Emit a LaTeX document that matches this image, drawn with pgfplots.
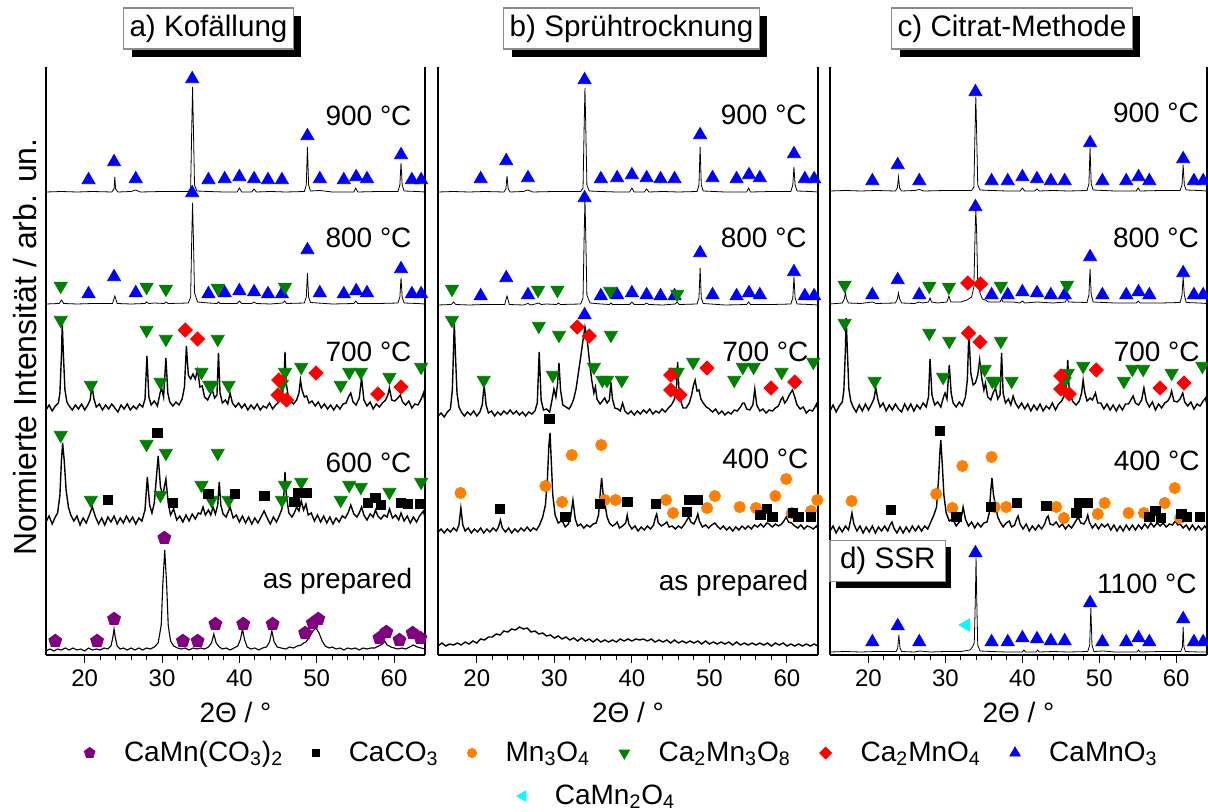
\documentclass[border=0pt]{standalone}
\usepackage{fontspec}
\setmainfont{Liberation Sans}
\usepackage{pgfplots}
\pgfplotsset{compat=1.18}
\usetikzlibrary{shadows}
\definecolor{cpur}{RGB}{128,0,128}
\definecolor{corg}{RGB}{255,128,0}
\definecolor{cgrn}{RGB}{0,128,0}
\definecolor{cred}{RGB}{255,0,0}
\definecolor{cblu}{RGB}{0,0,255}
\definecolor{ccyn}{RGB}{0,255,255}
\pgfplotsset{
 xrd/.style={scale only axis, height=294pt, xmin=15, xmax=64, ymin=0, ymax=588,
   axis x line*=bottom, axis y line*=box, xtick={20,30,40,50,60}, minor x tick num=4,
   ytick=\empty, tick align=outside, major tick length=4pt, minor tick length=2.5pt,
   tick style={black, line width=0.5pt}, axis line style={black, line width=0.6pt},
   anchor=south west, clip=false,
   /pgf/number format/assume math mode=true,
   xticklabel style={font=\fontsize{12}{12}\selectfont},
 },
 pat/.style={black, line width=0.4pt, mark=none},
 npat/.style={black, line width=0.7pt, mark=none},
 mpent/.style={only marks, mark=pentagon*, mark size=3.4pt, color=cpur},
 msq/.style={only marks, mark=square*, mark size=2.4pt, color=black},
 mcir/.style={only marks, mark=*, mark size=2.8pt, color=corg},
 mdtri/.style={only marks, mark=triangle*, mark size=3.75pt, color=cgrn, mark options={rotate=180}},
 mdia/.style={only marks, mark=square*, mark size=2.5pt, color=cred, mark options={rotate=45}},
 mutri/.style={only marks, mark=triangle*, mark size=3.75pt, color=cblu},
 mltri/.style={only marks, mark=triangle*, mark size=3.6pt, color=ccyn, mark options={rotate=90}},
 legax/.style={hide axis, scale only axis, width=10pt, height=10pt, xmin=0, xmax=1, ymin=0, ymax=1, anchor=center,
   legend image code/.code={\draw[##1] plot coordinates {(0pt,0pt)};},
   legend cell align=left},
}
\tikzset{
 tlab/.style={anchor=base east, inner sep=0pt, font=\fontsize{14}{14}\selectfont},
 xl/.style={font=\fontsize{14}{14}\selectfont, yshift=-28.75pt},
 tbox/.style={draw=black!45, fill=white, line width=0.6pt, inner xsep=3pt, inner ysep=0pt, minimum height=20.5pt, font=\fontsize{14.8}{14.8}\selectfont},
}
\begin{document}
\begin{tikzpicture}
\useasboundingbox (0,0) rectangle (604pt,-406pt);
% ---------------- panel a ----------------
\begin{axis}[xrd, width=189.5pt, at={(23pt,-327.5pt)}]
\addplot[pat] coordinates {(15,463)(17,463.5)(19,463)(21,463.5)(23.5,463)(23.8,466)(23.9,478)(24.0,466)(24.3,463)(26,463.5)(26.6,465)(27.2,463)(30,463.5)(33.4,463.5)(33.7,467)(33.85,530)(33.95,568)(34.05,530)(34.2,470)(34.5,464)(36,463.5)(38,463)(39.7,463)(40.0,467)(40.3,463)(41.6,463)(41.9,466)(42.2,463)(44,463.5)(46,463)(48.4,463.5)(48.65,470)(48.8,508)(48.95,470)(49.2,464)(50.4,464.5)(52,463)(54.8,463)(55.05,467)(55.3,463)(58,463.5)(60.5,463.5)(60.75,470)(60.9,492)(61.05,470)(61.3,464)(63,463.5)(64,463)};
\addplot[pat] coordinates {(15,351)(16.7,351.5)(17.0,355)(17.3,351.5)(19,351)(21,351.5)(23.6,351.5)(23.9,359)(24.2,351.5)(26,351)(27.8,351.5)(28.0,353)(28.3,351.5)(29,352)(30.3,351.5)(30.5,353)(30.8,351.5)(33.4,352)(33.7,358)(33.85,420)(33.95,452)(34.05,420)(34.2,362)(34.6,353)(36,352)(37.1,351.5)(37.3,353)(37.5,351.5)(39.7,351.5)(40.0,354)(40.3,351.5)(41.6,351.5)(41.9,353)(42.2,351.5)(44,351)(45.6,352)(45.85,354)(46.1,351.5)(48.4,352)(48.65,358)(48.8,382)(48.95,358)(49.2,352.5)(52,351)(54.8,351.5)(55.05,354)(55.3,351.5)(58,351.5)(60.5,352)(60.75,358)(60.9,377)(61.05,358)(61.3,352)(63,351.5)(64,351)};
\addplot[npat] coordinates {(15.0,245)(15.4,250)(15.8,244)(16.2,249)(16.6,252)(16.8,262)(17.0,300)(17.1,332)(17.25,300)(17.45,265)(17.7,253)(18.0,249)(18.4,245)(18.8,250)(19.2,246)(19.6,251)(20.0,245)(20.4,250)(20.7,255)(20.95,269)(21.2,256)(21.5,248)(21.9,251)(22.3,245)(22.7,250)(23.1,246)(23.5,251)(23.9,247)(24.3,243)(24.7,250)(25.1,246)(25.5,251)(25.9,245)(26.3,249)(26.7,246)(27.1,251)(27.5,248)(27.8,256)(28.05,299)(28.3,258)(28.6,250)(29.0,254)(29.4,249)(29.75,262)(29.95,267)(30.2,258)(30.5,297)(30.75,262)(31.0,253)(31.4,249)(31.8,253)(32.2,250)(32.6,256)(32.9,268)(33.15,309)(33.4,280)(33.7,276)(34.0,281)(34.3,276)(34.6,285)(34.9,268)(35.2,269)(35.5,258)(35.9,255)(36.2,260)(36.5,265)(36.8,257)(37.1,260)(37.3,302)(37.5,262)(37.8,252)(38.2,255)(38.5,251)(38.8,262)(39.1,252)(39.5,248)(39.9,252)(40.3,247)(40.7,251)(41.1,245)(41.5,250)(41.9,246)(42.3,251)(42.7,245)(43.1,249)(43.5,247)(43.9,252)(44.3,246)(44.7,250)(45.1,253)(45.5,258)(45.75,270)(45.9,303)(46.05,272)(46.3,260)(46.6,254)(47.0,251)(47.4,255)(47.7,262)(47.9,275)(48.1,265)(48.4,258)(48.7,259)(49.0,252)(49.4,254)(49.8,249)(50.2,253)(50.6,247)(51.0,251)(51.4,246)(51.8,250)(52.2,245)(52.6,250)(53.0,246)(53.4,251)(53.8,252)(54.1,258)(54.4,262)(54.7,253)(55.1,250)(55.5,257)(55.8,277)(56.1,255)(56.5,249)(56.9,253)(57.3,246)(57.7,251)(58.1,248)(58.5,252)(58.9,255)(59.2,260)(59.4,267)(59.7,255)(60.1,254)(60.5,257)(60.8,260)(61.1,253)(61.5,250)(61.9,254)(62.3,247)(62.7,251)(63.1,250)(63.5,256)(63.8,262)(64.0,252)};
\addplot[npat] coordinates {(15.0,133)(15.4,139)(15.8,131)(16.2,138)(16.5,142)(16.8,160)(17.0,195)(17.15,212)(17.35,195)(17.6,165)(17.9,148)(18.2,140)(18.6,134)(19.0,139)(19.4,130)(19.8,137)(20.2,132)(20.6,140)(21.0,148)(21.4,138)(21.8,131)(22.2,137)(22.6,130)(23.0,138)(23.4,133)(23.8,139)(24.2,131)(24.6,137)(25.0,132)(25.4,139)(25.8,133)(26.2,138)(26.6,131)(27.0,137)(27.4,134)(27.8,145)(28.1,178)(28.4,150)(28.7,142)(29.0,152)(29.3,180)(29.5,199)(29.8,168)(30.1,160)(30.5,176)(30.8,152)(31.1,140)(31.5,146)(31.9,135)(32.3,139)(32.7,133)(33.1,140)(33.5,134)(33.9,141)(34.3,136)(34.7,142)(35.0,141)(35.3,148)(35.6,140)(36.0,145)(36.3,140)(36.6,148)(36.9,141)(37.2,150)(37.4,173)(37.6,150)(37.9,141)(38.3,138)(38.8,148)(39.2,137)(39.6,140)(40.0,133)(40.4,139)(40.8,132)(41.2,138)(41.6,131)(42.0,137)(42.4,132)(42.8,138)(43.2,144)(43.6,137)(44.0,131)(44.4,138)(44.8,133)(45.2,140)(45.5,146)(45.75,160)(45.9,183)(46.1,158)(46.4,142)(46.8,138)(47.1,142)(47.4,148)(47.7,144)(48.0,154)(48.3,145)(48.6,151)(48.9,140)(49.3,142)(49.7,134)(50.1,140)(50.5,133)(50.9,139)(51.3,132)(51.7,138)(52.1,131)(52.5,137)(52.9,133)(53.3,139)(53.7,137)(54.1,143)(54.4,150)(54.8,141)(55.2,138)(55.5,142)(55.8,148)(56.1,140)(56.5,135)(56.9,141)(57.3,138)(57.6,145)(57.9,139)(58.3,136)(58.7,140)(59.1,138)(59.4,146)(59.8,137)(60.2,140)(60.6,135)(60.9,142)(61.3,134)(61.7,139)(62.1,132)(62.5,138)(62.9,133)(63.3,139)(63.8,144)(64.0,137)};
\addplot[pat, line width=0.55pt] coordinates {(15.0,4)(15.5,6)(16,4)(16.5,6)(17,5)(17.5,7)(18,5)(18.5,7)(19,5)(19.5,6)(20,4)(20.5,7)(21,5)(21.5,6)(22,5)(22.5,7)(23.0,6)(23.4,9)(23.65,18)(23.8,26)(23.95,18)(24.2,9)(24.6,6)(25.0,7)(25.5,5)(26,7)(26.5,5)(27,7)(27.5,5)(28,7)(28.5,6)(29.0,8)(29.5,12)(29.9,30)(30.1,70)(30.35,105)(30.6,70)(30.8,30)(31.1,14)(31.5,9)(32,7)(32.5,6)(33,7)(33.5,5)(34,7)(34.5,6)(35,7)(35.5,6)(36.0,8)(36.4,12)(36.7,21)(37.0,12)(37.4,8)(37.8,6)(38.3,7)(38.8,5)(39.3,7)(39.8,9)(40.15,16)(40.4,26)(40.65,16)(41.0,8)(41.5,6)(42,7)(42.5,5)(43,7)(43.5,8)(43.9,13)(44.2,24)(44.5,13)(44.9,8)(45.4,7)(46,6)(46.5,8)(47,7)(47.5,9)(48.0,10)(48.3,12)(48.6,13)(49.0,17)(49.5,24)(49.9,27)(50.3,22)(50.7,14)(51.1,9)(51.6,7)(52,8)(52.5,6)(53,7)(53.5,5)(54,7)(54.5,6)(55,7)(55.5,5)(56,7)(56.5,6)(57,7)(57.5,7)(58.0,9)(58.5,11)(58.8,14)(59.1,10)(59.6,8)(60,7)(60.5,6)(61,7)(61.5,6)(62.0,8)(62.5,10)(63.0,8)(63.5,7)(64,6)};
% markers a
\addplot[mutri] coordinates {(20.5,475)(23.8,493)(26.6,476)(33.9,576)(36.0,475)(38.1,476)(40.0,478)(41.9,476)(43.7,475)(45.5,475)(48.8,519)(50.4,476)(53.5,475)(55.1,478)(56.5,476)(60.9,500)(62.3,475)(63.5,475)};
\addplot[mutri] coordinates {(20.5,361)(23.8,378)(26.6,362)(33.9,462)(36.0,361)(38.1,362)(40.0,364)(41.9,363)(43.7,361)(45.5,361)(48.8,405)(50.4,362)(53.5,361)(55.1,364)(56.5,362)(60.9,386)(62.3,361)(63.5,361)};
\addplot[mdtri] coordinates {(16.9,369)(28.0,368)(30.5,366)(37.2,367)(45.9,368)};
\addplot[mdtri] coordinates {(16.9,335)(20.8,270)(28.0,325)(29.8,273)(30.5,316)(35.1,283)(36.1,270)(36.4,270)(37.2,316)(38.6,270)(45.5,271)(45.9,283)(48.0,288)(53.1,270)(54.2,283)(55.7,283)(59.4,278)(63.5,288)};
\addplot[mdia] coordinates {(33.0,325)(34.6,316)(45.1,275)(45.0,260)(46.1,255)(49.9,282)(57.9,261)(60.9,268)};
\addplot[mdtri] coordinates {(16.9,220)(20.8,155)(28.0,211)(29.8,160)(30.5,202)(35.1,170)(36.4,155)(37.2,202)(38.6,155)(45.5,155)(45.9,170)(48.0,173)(53.1,155)(54.2,170)(55.7,168)(59.4,163)(63.5,173)};
\addplot[msq] coordinates {(23.0,155)(29.4,222)(31.4,152)(36.0,161)(39.4,161)(43.2,159)(47.1,153)(47.6,162)(48.7,162)(56.6,152)(57.6,157)(58.3,150)(60.9,152)(61.8,151)(63.4,151)};
\addplot[mpent] coordinates {(16.2,14)(21.6,14)(23.8,36)(30.3,117)(32.7,14)(34.6,14)(36.9,31)(40.5,31)(44.3,31)(48.5,22)(49.5,32)(50.2,36)(58.1,17)(59.0,23)(60.7,15)(62.4,22)(63.4,17)};
\node[tlab] at (axis cs:62.3,529) {900 °C};
\node[tlab] at (axis cs:62.3,407) {800 °C};
\node[tlab] at (axis cs:62.3,294) {700 °C};
\node[tlab] at (axis cs:62.3,183) {600 °C};
\node[tlab] at (axis cs:62.4,67) {as prepared};
\node[xl] at (rel axis cs:0.5,0) {2Θ / °};
\end{axis}
% ---------------- panel b ----------------
\begin{axis}[xrd, width=190pt, at={(219pt,-327.5pt)}]
\addplot[pat] coordinates {(15,463)(17,463.5)(19,463)(21,463.5)(23.5,463)(23.75,466)(23.9,479)(24.05,466)(24.3,463)(26,463.5)(26.6,465)(27.2,463)(30,463.5)(33.4,463.5)(33.7,467)(33.85,530)(33.95,567)(34.05,530)(34.2,470)(34.5,464)(36,463.5)(38,463)(39.7,463)(40.0,467)(40.3,463)(41.6,463)(41.9,466)(42.2,463)(44,463.5)(46,463)(48.4,463.5)(48.65,470)(48.8,508)(48.95,470)(49.2,464)(52,463)(54.8,463)(55.05,467)(55.3,463)(58,463.5)(60.5,463.5)(60.75,470)(60.9,488)(61.05,470)(61.3,464)(63,463.5)(64,463)};
\addplot[pat] coordinates {(15,350)(16.7,350.5)(17.0,353)(17.3,350.5)(19,350)(21,350.5)(23.6,350.5)(23.9,359)(24.2,350.5)(26,350)(26.6,351.5)(27,350)(28.0,352)(28.3,350.5)(29,351)(30.3,350.5)(30.5,352)(30.8,350.5)(33.4,351)(33.7,357)(33.85,420)(33.95,456)(34.05,420)(34.2,360)(34.6,352)(36,351)(37.1,350.5)(37.3,352)(37.5,350.5)(39.7,350.5)(40.0,353)(40.3,350.5)(41.6,350.5)(41.9,352)(42.2,350.5)(44,350)(45.6,351)(45.85,353)(46.1,350.5)(48.4,351)(48.65,357)(48.8,387)(48.95,357)(49.2,351.5)(52,350)(54.8,350.5)(55.05,353)(55.3,350.5)(58,350.5)(60.5,351)(60.75,357)(60.9,378)(61.05,357)(61.3,351)(63,350.5)(64,350)};
\addplot[npat] coordinates {(15.0,239)(15.4,242)(15.8,238)(16.2,243)(16.6,246)(16.85,265)(17.0,305)(17.1,332)(17.25,300)(17.45,262)(17.7,248)(18.0,243)(18.4,239)(18.8,243)(19.2,240)(19.6,244)(20.0,239)(20.4,243)(20.7,250)(20.95,270)(21.2,250)(21.5,242)(21.9,244)(22.3,239)(22.7,243)(23.1,240)(23.5,244)(23.9,241)(24.3,245)(24.7,241)(25.1,244)(25.5,240)(25.9,243)(26.3,239)(26.7,243)(27.1,241)(27.5,244)(27.8,252)(28.05,303)(28.3,255)(28.6,245)(29.0,246)(29.4,243)(29.7,255)(29.95,266)(30.2,258)(30.4,270)(30.6,292)(30.8,265)(31.1,250)(31.5,248)(31.9,246)(32.2,250)(32.5,256)(32.8,266)(33.1,282)(33.4,298)(33.7,315)(33.95,328)(34.2,318)(34.5,296)(34.8,276)(35.1,262)(35.3,268)(35.5,256)(35.9,251)(36.2,254)(36.5,257)(36.8,252)(37.1,255)(37.3,273)(37.5,256)(37.8,247)(38.2,246)(38.5,244)(38.8,252)(39.1,244)(39.5,241)(39.9,244)(40.3,240)(40.7,244)(41.1,241)(41.5,245)(41.9,242)(42.3,246)(42.7,241)(43.1,244)(43.5,242)(43.9,246)(44.3,243)(44.7,247)(45.1,250)(45.5,256)(45.75,268)(45.9,293)(46.05,268)(46.3,254)(46.6,247)(47.0,247)(47.4,252)(47.7,260)(47.95,270)(48.15,275)(48.4,264)(48.65,265)(48.9,256)(49.2,252)(49.6,248)(50.0,246)(50.4,243)(50.8,246)(51.2,241)(51.6,244)(52.0,240)(52.4,243)(52.8,241)(53.2,245)(53.6,244)(54.0,248)(54.3,252)(54.5,252)(54.8,246)(55.2,245)(55.6,250)(55.85,266)(56.1,250)(56.5,244)(56.9,246)(57.3,242)(57.7,245)(58.1,244)(58.5,247)(58.9,249)(59.2,255)(59.45,258)(59.7,252)(60.0,255)(60.3,260)(60.7,265)(61.0,258)(61.3,250)(61.7,246)(62.1,248)(62.5,242)(62.9,245)(63.3,244)(63.6,248)(63.8,251)(64.0,245)};
\addplot[npat] coordinates {(15.0,123)(15.4,126)(15.8,122)(16.2,126)(16.6,123)(17.0,127)(17.4,124)(17.7,130)(17.95,147)(18.2,130)(18.5,124)(18.9,127)(19.3,122)(19.7,126)(20.1,123)(20.5,127)(20.9,122)(21.3,126)(21.7,123)(22.1,127)(22.5,124)(22.8,128)(23.05,135)(23.3,127)(23.7,123)(24.1,127)(24.5,122)(24.9,126)(25.3,123)(25.7,127)(26.1,124)(26.5,128)(26.9,124)(27.3,127)(27.7,125)(28.1,130)(28.5,138)(28.85,150)(29.1,175)(29.3,210)(29.45,222)(29.6,195)(29.8,160)(30.1,140)(30.5,132)(30.9,134)(31.1,133)(31.4,128)(31.8,131)(32.1,138)(32.4,155)(32.7,136)(33.0,129)(33.4,131)(33.8,127)(34.2,130)(34.6,128)(35.0,131)(35.4,132)(35.7,140)(35.95,165)(36.1,177)(36.3,160)(36.55,150)(36.8,138)(37.1,132)(37.5,129)(37.9,131)(38.1,133)(38.4,127)(38.8,129)(39.2,132)(39.4,140)(39.6,131)(40.0,126)(40.4,129)(40.8,124)(41.2,128)(41.6,125)(42.0,129)(42.4,126)(42.8,130)(43.05,138)(43.2,141)(43.4,132)(43.8,129)(44.2,131)(44.5,133)(44.8,128)(45.2,129)(45.6,126)(46.0,129)(46.4,127)(46.8,131)(47.1,135)(47.35,138)(47.6,133)(48.0,131)(48.3,136)(48.5,141)(48.7,134)(49.1,128)(49.5,130)(49.9,127)(50.3,130)(50.7,132)(51.0,129)(51.4,126)(51.8,129)(52.2,125)(52.6,128)(53.0,124)(53.4,128)(53.8,125)(54.2,129)(54.6,126)(55.0,129)(55.4,126)(55.8,130)(56.2,128)(56.6,131)(57.0,128)(57.4,132)(57.7,131)(58.1,128)(58.5,131)(58.9,129)(59.3,131)(59.6,134)(59.9,138)(60.2,133)(60.6,132)(61.0,129)(61.4,127)(61.8,130)(62.2,126)(62.6,129)(63.0,128)(63.4,126)(63.8,129)(64.0,126)};
\addplot[npat] coordinates {(15.0,9)(15.5,12)(16.0,9)(16.5,11)(17.0,10)(17.5,12)(18.0,10)(18.5,13)(19.0,11)(19.5,14)(20.0,12)(20.5,16)(21.0,15)(21.5,18)(22.0,18)(22.5,21)(23.0,20)(23.5,24)(24.0,23)(24.5,26)(25.0,25)(25.5,28)(26.0,26)(26.5,27)(27.0,23)(27.5,24)(28.0,21)(28.5,22)(29.0,19)(29.5,20)(30.0,17)(30.5,19)(31.0,16)(31.5,18)(32.0,15)(32.5,17)(33.0,14)(33.5,17)(34.0,14)(34.5,16)(35.0,13)(35.5,16)(36.0,13)(36.5,15)(37.0,13)(37.5,15)(38.0,13)(38.5,16)(39.0,14)(39.5,16)(40.0,14)(40.5,16)(41.0,15)(41.5,16)(42.0,14)(42.5,16)(43.0,13)(43.5,15)(44.0,13)(44.5,15)(45.0,12)(45.5,15)(46.0,12)(46.5,14)(47.0,12)(47.5,14)(48.0,12)(48.5,14)(49.0,11)(49.5,14)(50.0,11)(50.5,13)(51.0,11)(51.5,13)(52.0,11)(52.5,13)(53.0,10)(53.5,13)(54.0,10)(54.5,12)(55.0,10)(55.5,12)(56.0,10)(56.5,12)(57.0,10)(57.5,12)(58.0,9)(58.5,12)(59.0,10)(59.5,12)(60.0,9)(60.5,11)(61.0,9)(61.5,11)(62.0,9)(62.5,11)(63.0,9)(63.5,11)(64.0,9)};
% markers b
\addplot[mutri] coordinates {(20.5,476)(23.8,494)(26.6,477)(33.9,575)(36.0,476)(38.1,477)(40.0,480)(41.9,477)(43.7,476)(45.5,476)(48.8,520)(50.4,477)(53.5,476)(55.1,480)(56.5,477)(60.9,501)(62.3,476)(63.5,476)};
\addplot[mutri] coordinates {(20.5,359)(23.8,377)(26.6,360)(33.9,457)(36.0,359)(38.1,360)(40.0,362)(41.9,360)(43.7,359)(45.5,359)(48.8,402)(50.4,360)(53.5,359)(55.1,362)(56.5,360)(60.9,383)(62.3,359)(63.5,359)};
\addplot[mdtri] coordinates {(16.8,366)(27.9,365)(30.4,365)(37.2,364)(45.85,361)};
\addplot[mdtri] coordinates {(16.8,335)(20.9,275)(28.0,329)(29.8,280)(30.6,320)(35.1,288)(36.2,275)(36.8,275)(37.3,320)(38.7,275)(45.6,283)(45.9,283)(47.9,293)(53.2,275)(54.3,288)(55.7,288)(59.3,283)(63.4,293)};
\addplot[mutri] coordinates {(33.9,340)};
\addplot[mdia] coordinates {(32.95,328)(34.5,319)(45.0,280)(45.0,265)(46.2,260)(49.7,287)(57.95,267)(61.0,273)};
\addplot[mcir] coordinates {(17.9,162)(28.85,169)(31.0,153)(32.25,200)(36.05,210)(36.5,155)(37.9,155)(44.4,155)(45.3,142)(49.7,147)(50.7,159)(53.9,148)(56.0,147)(58.5,159)(59.9,176)(60.6,142)(63.1,144)(63.9,155)};
\addplot[msq] coordinates {(29.4,236)(23.0,146)(31.4,138)(35.9,151)(39.4,153)(43.1,151)(47.1,143)(47.4,155)(48.5,155)(56.6,140)(57.4,146)(58.1,138)(60.75,142)(61.45,138)(63.1,138)};
\node[tlab] at (axis cs:62.6,530) {900 °C};
\node[tlab] at (axis cs:62.6,408) {800 °C};
\node[tlab] at (axis cs:62.8,294) {700 °C};
\node[tlab] at (axis cs:62.8,187) {400 °C};
\node[tlab] at (axis cs:62.8,65) {as prepared};
\node[xl] at (rel axis cs:0.5,0) {2Θ / °};
\end{axis}
% ---------------- panel c / d ----------------
\begin{axis}[xrd, width=188.5pt, at={(415pt,-327.5pt)}]
\addplot[pat] coordinates {(15,464)(17,464.5)(19,464)(21,464.5)(23.5,464)(23.75,467)(23.9,478)(24.05,467)(24.3,464)(26,464.5)(26.6,465.5)(27.2,464)(30,464.5)(33.4,464.5)(33.7,468)(33.85,525)(33.95,558)(34.05,525)(34.2,470)(34.5,465)(36,464.5)(38,464)(39.7,464)(40.0,467)(40.3,464)(41.6,464)(41.9,466)(42.2,464)(44,464.5)(46,464)(48.4,464.5)(48.65,471)(48.8,507)(48.95,471)(49.2,465)(52,464)(54.8,464)(55.05,467)(55.3,464)(58,464.5)(60.5,464.5)(60.75,470)(60.9,490)(61.05,470)(61.3,465)(63,464.5)(64,464)};
\addplot[pat] coordinates {(15,351)(16.6,352)(16.85,356)(17.0,362)(17.15,356)(17.4,352)(19,351.5)(20.5,353)(21,351.5)(23.5,352)(23.75,356)(23.9,362)(24.05,356)(24.3,352)(26,351.5)(26.6,353)(27.0,352)(27.8,353)(28.0,357)(28.2,353)(29,352)(30.2,353)(30.45,359)(30.7,353)(32,353)(32.8,355)(33.0,356)(33.4,358)(33.7,368)(33.85,420)(33.95,445)(34.05,425)(34.2,372)(34.5,362)(34.8,356)(35.2,355)(35.6,353)(36.5,353)(37.1,353)(37.3,356)(37.5,353)(38.8,353)(39.7,352)(40.0,354)(40.3,352)(41.9,353)(44,352)(45.6,353)(45.8,357)(46.0,353)(48.4,352.5)(48.65,360)(48.8,386)(48.95,360)(49.2,353)(52,352)(54.8,352)(55.05,354)(55.3,352)(58,352)(60.5,352.5)(60.75,360)(60.9,378)(61.05,360)(61.3,352.5)(63,352)(64,351.5)};
\addplot[npat] coordinates {(15.0,244)(15.4,250)(15.8,243)(16.2,249)(16.6,253)(16.8,265)(17.0,305)(17.1,337)(17.25,305)(17.45,266)(17.7,254)(18.0,248)(18.4,243)(18.8,250)(19.2,244)(19.6,251)(20.0,245)(20.4,251)(20.7,256)(20.95,267)(21.2,256)(21.5,248)(21.9,252)(22.3,244)(22.7,250)(23.1,245)(23.5,251)(23.9,246)(24.3,243)(24.7,251)(25.1,245)(25.5,251)(25.9,244)(26.3,250)(26.7,246)(27.1,252)(27.5,248)(27.8,258)(28.0,296)(28.25,260)(28.6,250)(29.0,253)(29.4,248)(29.75,258)(29.95,262)(30.2,256)(30.5,290)(30.75,262)(31.0,252)(31.4,248)(31.8,253)(32.2,249)(32.6,258)(32.85,275)(33.05,323)(33.3,282)(33.6,270)(33.9,272)(34.2,280)(34.45,295)(34.7,278)(35.0,265)(35.2,272)(35.5,258)(35.9,255)(36.2,262)(36.5,267)(36.8,256)(37.1,260)(37.3,302)(37.5,262)(37.8,252)(38.2,256)(38.5,250)(38.8,259)(39.1,252)(39.5,247)(39.9,252)(40.3,246)(40.7,251)(41.1,244)(41.5,250)(41.9,245)(42.3,251)(42.7,244)(43.1,249)(43.5,246)(43.9,252)(44.3,245)(44.7,251)(45.1,254)(45.5,260)(45.75,272)(45.9,295)(46.05,270)(46.3,258)(46.6,253)(47.0,250)(47.4,254)(47.7,262)(47.9,275)(48.1,263)(48.4,254)(48.8,257)(49.1,255)(49.5,262)(49.8,252)(50.2,252)(50.6,246)(51.0,251)(51.4,245)(51.8,250)(52.2,244)(52.6,250)(53.0,245)(53.4,251)(53.8,251)(54.1,255)(54.4,259)(54.7,252)(55.1,250)(55.5,255)(55.8,267)(56.1,254)(56.5,248)(56.9,253)(57.3,245)(57.7,251)(58.1,247)(58.5,252)(58.9,254)(59.2,258)(59.4,264)(59.7,254)(60.1,253)(60.5,256)(60.85,262)(61.1,253)(61.5,249)(61.9,253)(62.3,246)(62.7,251)(63.1,249)(63.5,254)(63.8,257)(64.0,250)};
\addplot[npat] coordinates {(15.0,124)(15.4,129)(15.8,122)(16.2,128)(16.6,123)(17.0,129)(17.4,125)(17.6,132)(17.85,142)(18.1,131)(18.5,124)(18.9,129)(19.3,122)(19.7,128)(20.1,123)(20.5,129)(20.9,122)(21.3,128)(21.7,124)(22.1,129)(22.5,124)(22.8,130)(23.05,133)(23.3,127)(23.7,122)(24.1,128)(24.5,122)(24.9,128)(25.3,123)(25.7,129)(26.1,124)(26.5,129)(26.9,124)(27.3,129)(27.7,126)(28.1,133)(28.5,140)(28.85,148)(29.1,175)(29.3,205)(29.4,215)(29.6,190)(29.8,160)(30.1,142)(30.5,134)(30.9,136)(31.1,134)(31.4,129)(31.8,133)(32.1,139)(32.3,148)(32.6,136)(33.0,129)(33.4,133)(33.8,127)(34.2,132)(34.6,128)(35.0,132)(35.4,133)(35.7,142)(35.9,165)(36.05,177)(36.25,160)(36.5,150)(36.8,138)(37.1,133)(37.5,128)(37.9,132)(38.3,134)(38.6,128)(39.0,130)(39.25,136)(39.45,139)(39.7,131)(40.1,126)(40.5,131)(40.9,124)(41.3,129)(41.7,125)(42.1,130)(42.5,126)(42.9,131)(43.15,137)(43.35,139)(43.6,131)(44.0,130)(44.4,133)(44.8,128)(45.2,131)(45.6,126)(46.0,130)(46.4,127)(46.8,132)(47.1,136)(47.3,137)(47.6,132)(48.0,131)(48.3,135)(48.5,140)(48.7,133)(49.1,127)(49.5,131)(49.9,126)(50.3,131)(50.7,128)(51.1,131)(51.5,125)(51.9,130)(52.3,124)(52.7,129)(53.1,124)(53.5,130)(53.9,125)(54.3,130)(54.7,125)(55.1,130)(55.5,126)(55.9,131)(56.3,127)(56.7,132)(57.1,128)(57.5,132)(57.9,129)(58.3,132)(58.7,128)(59.1,131)(59.5,130)(59.9,134)(60.2,130)(60.5,131)(60.9,127)(61.3,130)(61.7,125)(62.1,130)(62.5,125)(62.9,129)(63.3,125)(63.7,129)(64.0,126)};
\addplot[pat] coordinates {(15,3)(17,3.5)(19,3)(21,3.5)(23.6,3.5)(23.8,7)(23.95,20)(24.1,7)(24.3,3.5)(26,3)(26.7,4)(28,3)(30,3.5)(32,3.5)(33.2,5)(33.5,8)(33.75,12)(33.9,60)(33.98,97)(34.06,60)(34.2,10)(34.5,4)(36,3.5)(38,3)(40.0,3)(40.2,5)(40.4,3)(41.8,3)(42.0,5)(42.2,3)(44,3.5)(46,3)(48.5,3.5)(48.75,10)(48.9,47)(49.05,10)(49.3,3.5)(50.5,4)(52,3)(54.9,3)(55.1,5)(55.3,3)(58,3.5)(60.6,3.5)(60.8,8)(60.9,28)(61.0,8)(61.2,3.5)(63,3)(64,3)};
% markers c
\addplot[mutri] coordinates {(20.5,474)(23.8,490)(26.6,474)(33.9,563)(36.0,474)(38.1,474)(40.0,478)(41.9,476)(43.7,474)(45.5,474)(48.8,512)(50.4,474)(53.5,474)(55.1,478)(56.5,474)(60.9,496)(62.3,474)(63.5,474)};
\addplot[mutri] coordinates {(20.5,360)(23.8,375)(26.6,360)(33.9,448)(36.0,360)(38.1,360)(40.0,363)(41.9,362)(43.7,360)(45.5,360)(48.8,398)(50.4,360)(53.5,360)(55.1,363)(56.5,360)(60.9,382)(62.3,360)(63.5,360)};
\addplot[mdtri] coordinates {(16.9,370)(27.9,369)(30.45,368)(37.2,369)(45.8,370)};
\addplot[mdia] coordinates {(32.9,372)(34.55,371)};
\addplot[mdtri] coordinates {(16.9,332)(20.8,274)(27.9,322)(29.7,278)(30.5,314)(35.1,286)(36.1,274)(36.5,274)(37.2,314)(38.6,274)(45.5,274)(45.9,282)(47.9,289)(53.2,274)(54.3,286)(55.7,286)(59.4,282)(63.4,289)};
\addplot[mdia] coordinates {(33.0,322)(34.5,313)(45.0,279)(45.0,266)(46.1,261)(49.6,285)(57.9,267)(61.0,272)};
\addplot[mcir] coordinates {(17.8,154)(28.8,161)(30.9,147)(32.2,189)(36.0,198)(36.4,148)(37.9,148)(44.4,148)(45.4,137)(49.8,141)(50.7,152)(53.8,142)(55.8,142)(58.5,152)(59.8,167)(60.5,137)};
\addplot[msq] coordinates {(29.3,224)(22.9,145)(31.4,138)(35.9,148)(39.3,152)(43.1,149)(47.0,142)(47.4,152)(48.5,152)(56.5,138)(57.3,144)(58.0,137)(60.7,141)(61.4,138)(63.1,138)};
\addplot[mutri] coordinates {(20.5,13)(23.8,29)(26.6,13)(33.9,102)(36.0,13)(38.1,13)(40.0,17)(41.9,16)(43.7,14)(45.5,14)(48.8,52)(50.4,13)(53.5,13)(55.1,17)(56.5,13)(60.9,36)(62.3,13)(63.5,13)};
\addplot[mltri] coordinates {(32.7,30)};
\node[tlab] at (axis cs:63.0,532) {900 °C};
\node[tlab] at (axis cs:63.0,407) {800 °C};
\node[tlab] at (axis cs:63.1,294) {700 °C};
\node[tlab] at (axis cs:63.1,185) {400 °C};
\node[tlab] at (axis cs:62.7,62) {1100 °C};
\node[xl] at (rel axis cs:0.5,0) {2Θ / °};
\end{axis}
% ---------------- legend ----------------
\begin{axis}[legax, at={(311.5pt,-376.5pt)},
  legend style={at={(0.5,0.5)}, anchor=center, draw=none, fill=none, font=\fontsize{14}{14}\selectfont,
    /tikz/every odd column/.append style={column sep=12.5pt},
    /tikz/every even column/.append style={column sep=12.5pt}},
  legend columns=6]
\addlegendimage{only marks, mark=pentagon*, mark size=2.8pt, color=cpur}
\addlegendentry{CaMn(CO\textsubscript{3})\textsubscript{2}}
\addlegendimage{only marks, mark=square*, mark size=1.9pt, color=black}
\addlegendentry{CaCO\textsubscript{3}}
\addlegendimage{only marks, mark=*, mark size=2.3pt, color=corg}
\addlegendentry{Mn\textsubscript{3}O\textsubscript{4}}
\addlegendimage{only marks, mark=triangle*, mark size=3pt, color=cgrn, mark options={rotate=180}}
\addlegendentry{Ca\textsubscript{2}Mn\textsubscript{3}O\textsubscript{8}}
\addlegendimage{only marks, mark=square*, mark size=2.1pt, color=cred, mark options={rotate=45}}
\addlegendentry{Ca\textsubscript{2}MnO\textsubscript{4}}
\addlegendimage{only marks, mark=triangle*, mark size=3pt, color=cblu}
\addlegendentry{CaMnO\textsubscript{3}}
\end{axis}
\begin{axis}[legax, at={(299pt,-398pt)},
  legend style={at={(0.5,0.5)}, anchor=center, draw=none, fill=none, font=\fontsize{14}{14}\selectfont,
    /tikz/every odd column/.append style={column sep=12.5pt}}]
\addlegendimage{only marks, mark=triangle*, mark size=3pt, color=ccyn, mark options={rotate=90}}
\addlegendentry{CaMn\textsubscript{2}O\textsubscript{4}}
\end{axis}
% ---------------- texts ----------------
\node[rotate=90, font=\fontsize{16}{16}\selectfont] at (12.5pt,-173.5pt) {Normierte Intensität / arb. un.};
\node[tbox, drop shadow={shadow xshift=4pt, shadow yshift=-4pt, fill=black, opacity=1}] at (104.25pt,-14.25pt) {a) Kofällung};
\node[tbox, drop shadow={shadow xshift=4pt, shadow yshift=-4pt, fill=black, opacity=1}] at (315.75pt,-14.25pt) {b) Sprühtrocknung};
\node[tbox, drop shadow={shadow xshift=4pt, shadow yshift=-4pt, fill=black, opacity=1}] at (506pt,-14.25pt) {c) Citrat-Methode};
\node[tbox, inner xsep=5pt, drop shadow={shadow xshift=3pt, shadow yshift=-3pt, fill=black, opacity=1}] at (443.85pt,-280.5pt) {d) SSR};
\end{tikzpicture}
\end{document}
